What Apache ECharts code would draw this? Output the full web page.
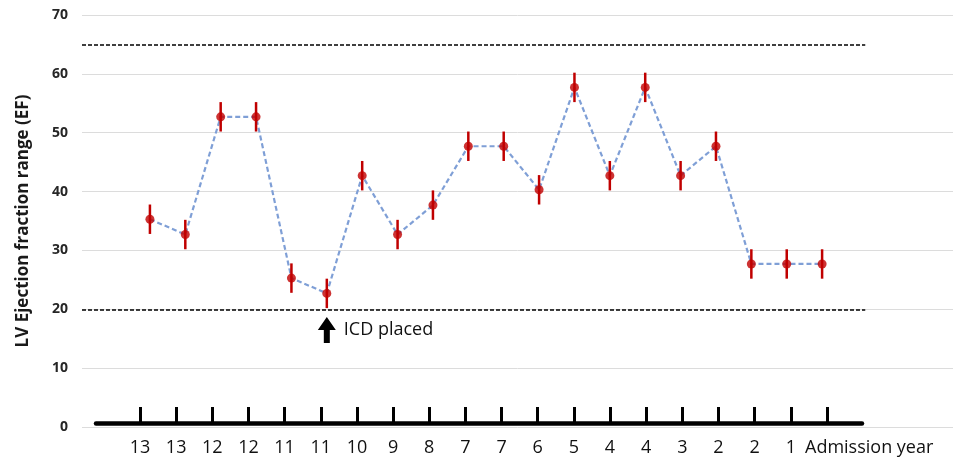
<!DOCTYPE html>
<html>
<head>
<meta charset="utf-8">
<script src="https://cdn.jsdelivr.net/npm/echarts@6/dist/echarts.min.js"></script>
<style>
html,body{margin:0;padding:0;background:#fff;}
#chart{width:953px;height:458px;}
</style>
</head>
<body>
<div id="chart"></div>
<script>
// ---- data ----
const admissionYears = ['13','13','12','12','11','11','10','9','8','7','7','6','5','4','4','3','2','2','1'];
const efValues = [35.3, 32.7, 52.7, 52.7, 25.3, 22.7, 42.7, 32.7, 37.7, 47.7, 47.7, 40.3, 57.7, 42.7, 57.7, 42.7, 47.7, 27.7, 27.7, 27.7];
const efError = [2.5, 2.5, 2.5, 2.5, 2.5, 2.5, 2.5, 2.5, 2.5, 2.5, 2.5, 2.5, 2.5, 2.5, 2.5, 2.5, 2.5, 2.5, 2.5, 2.5];
const normalBounds = [20, 65];
const yTicks = [0, 10, 20, 30, 40, 50, 60, 70];
const icdIndex = 5;
const icdLabel = 'ICD placed';
const xAxisName = 'Admission year';
const yAxisName = 'LV Ejection fraction range (EF)';

// ---- build ----
const pts = efValues.map((v, i) => [i, v]);
const bars = efValues.map((v, i) => [i, v - efError[i], v + efError[i]]);
const tickIdx = efValues.map((v, i) => i);
const labelIdx = admissionYears.map((v, i) => i);
const xMin = -1.92, xMax = 22.70, refEnd = 20.22;

const chart = echarts.init(document.getElementById('chart'));
const option = {
  animation: false,
  backgroundColor: '#ffffff',
  grid: [
    {left: 82, right: 0, top: 15, bottom: 31},
    {left: 96, right: 91, top: 15, bottom: 35}
  ],
  xAxis: [
    {type: 'value', gridIndex: 0, min: xMin, max: xMax, show: false},
    {type: 'value', gridIndex: 1, min: -1.217, max: 19.97,
     axisLine: {show: true, lineStyle: {color: '#000', width: 4.5}},
     splitLine: {show: false},
     axisTick: {show: true, inside: true, length: 16, customValues: tickIdx,
                lineStyle: {color: '#000', width: 3}},
     axisLabel: {show: true, customValues: labelIdx, margin: 16,
                 formatter: v => admissionYears[Math.round(v)] || '',
                 fontFamily: 'Open Sans', fontSize: 18, color: '#111'}}
  ],
  yAxis: [
    {type: 'value', gridIndex: 0, min: yTicks[0], max: yTicks[yTicks.length - 1], interval: 10,
     axisLine: {show: false}, axisTick: {show: false},
     axisLabel: {margin: 14, fontFamily: 'Open Sans', fontWeight: 'bold', fontSize: 14, color: '#262626'},
     splitLine: {show: true, lineStyle: {color: '#dcdcdc', width: 1}},
     name: yAxisName, nameLocation: 'middle', nameGap: 50,
     nameTextStyle: {fontFamily: 'Open Sans', fontWeight: 'bold', fontSize: 17, color: '#1a1a1a'}},
    {type: 'value', gridIndex: 1, min: 0, max: 1, show: false}
  ],
  graphic: [
    {type: 'text', x: 805, y: 448,
     style: {text: xAxisName, fontFamily: 'Open Sans', fontSize: 18, fill: '#111', verticalAlign: 'middle'}}
  ],
  series: [
    {type: 'line', xAxisIndex: 0, yAxisIndex: 0, data: pts, showSymbol: false, z: 2,
     lineStyle: {color: '#7f9fd6', width: 2.2, type: [5, 3]},
     markLine: {silent: true, symbol: 'none', label: {show: false},
       lineStyle: {color: '#000', width: 1.5, type: [4, 2]},
       data: normalBounds.map(b => [{coord: [xMin, b]}, {coord: [refEnd, b]}])}},
    {type: 'custom', xAxisIndex: 0, yAxisIndex: 0, data: bars, z: 3,
     renderItem: function (params, api) {
       const p1 = api.coord([api.value(0), api.value(1)]);
       const p2 = api.coord([api.value(0), api.value(2)]);
       return {type: 'line', shape: {x1: p1[0], y1: p1[1], x2: p2[0], y2: p2[1]},
               style: {stroke: '#c00000', lineWidth: 2.5}};
     }},
    {type: 'scatter', xAxisIndex: 0, yAxisIndex: 0, data: pts, z: 4,
     symbolSize: 9, itemStyle: {color: '#c00000'},
     markPoint: {silent: true,
       data: [{coord: [icdIndex, 16.5],
               symbol: 'path://M9,0 L18,13 L12,13 L12,26 L6,26 L6,13 L0,13 Z',
               symbolSize: [18, 26], symbolKeepAspect: false,
               itemStyle: {color: '#000'},
               label: {show: true, position: 'right', distance: 8, formatter: icdLabel,
                       fontFamily: 'Open Sans', fontSize: 18, color: '#111'}}]}}
  ]
};
chart.setOption(option);
</script>
</body>
</html>
